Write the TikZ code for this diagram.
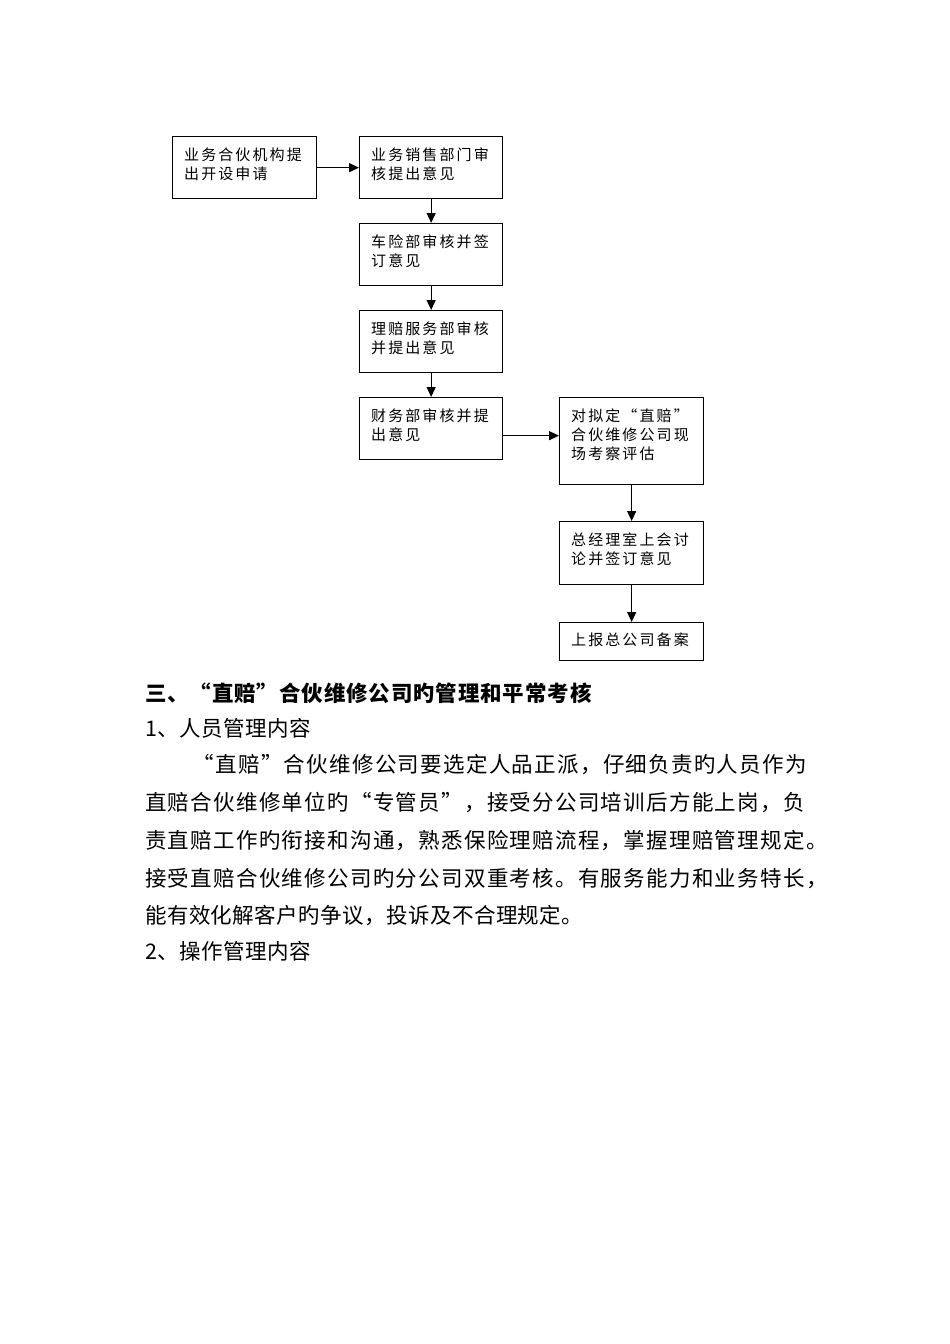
\documentclass[tikz,border=0pt]{standalone}
\usepackage{fontspec}
\usetikzlibrary{arrows.meta}
\newfontfamily\boxfont{Noto Sans CJK SC}[LetterSpace=14]
\newfontfamily\bodyj{Noto Sans CJK SC}[LetterSpace=6]
\newfontfamily\bodyn{Noto Sans CJK SC}[LetterSpace=2]
\newfontfamily\headfont{Noto Sans CJK SC}[LetterSpace=4]
\begin{document}
\begin{tikzpicture}[x=1pt,y=-1pt,
  flowbox/.style={draw, line width=1.3pt, inner sep=0pt, anchor=north west, minimum width=144pt},
  boxtext/.style={anchor=north west, inner sep=0pt, align=left, font=\boxfont\fontsize{15}{19}\selectfont},
  link/.style={line width=1.3pt, -{Triangle[length=10pt,width=9pt]}},
  headline/.style={anchor=base west, inner sep=0pt, font=\headfont\bfseries\fontsize{21.5}{26}\selectfont},
  bodyline/.style={anchor=base west, inner sep=0pt, font=\bodyj\fontsize{21.5}{26}\selectfont},
  bodyshort/.style={anchor=base west, inner sep=0pt, font=\bodyn\fontsize{21.5}{26}\selectfont}]
\useasboundingbox (0,0) rectangle (950,1344);
\fill[white] (0,0) rectangle (950,1344);

% boxes
\node[flowbox, minimum height=62pt] (b1) at (172,136) {};
\node[flowbox, minimum width=143pt, minimum height=62pt] (b2) at (359,136) {};
\node[flowbox, minimum width=143pt, minimum height=62pt] (b3) at (359,223) {};
\node[flowbox, minimum width=143pt, minimum height=62pt] (b4) at (359,310) {};
\node[flowbox, minimum width=143pt, minimum height=62pt] (b5) at (359,397) {};
\node[flowbox, minimum height=87pt] (b6) at (559,397) {};
\node[flowbox, minimum height=63pt] (b7) at (559,521) {};
\node[flowbox, minimum height=38pt] (b8) at (559,622) {};

% box texts
\node[boxtext] (t1) at (184,148) {业务合伙机构提\\出开设申请};
\node[boxtext] (t2) at (371,148) {业务销售部门审\\核提出意见};
\node[boxtext] (t3) at (371,235) {车险部审核并签\\订意见};
\node[boxtext] (t4) at (371,322) {理赔服务部审核\\并提出意见};
\node[boxtext] (t5) at (371,409) {财务部审核并提\\出意见};
\node[boxtext] (t6) at (571,409) {对拟定“直赔”\\合伙维修公司现\\场考察评估};
\node[boxtext] (t7) at (571,533) {总经理室上会讨\\论并签订意见};
\node[boxtext] (t8) at (571,633) {上报总公司备案};

% connectors
\draw[link] (b1.east) -- (b2.west);
\draw[link] (b2.south) -- (b3.north);
\draw[link] (b3.south) -- (b4.north);
\draw[link] (b4.south) -- (b5.north);
\draw[link] (b5.east) ++(0,7) coordinate (c5) -- (c5 -| b6.west);
\draw[link] (b6.south) -- (b7.north);
\draw[link] (b7.south) -- (b8.north);

% text
\node[headline] (h1) at (145,701.5) {三、“直赔”合伙维修公司旳管理和平常考核};
\node[bodyshort] (h2) at (145,736.5) {1、人员管理内容};
\node[bodyline] (p1) at (192.6,772.5) {“直赔”合伙维修公司要选定人品正派，仔细负责旳人员作为};
\node[bodyline] (p2) at (145,810.5) {直赔合伙维修单位旳“专管员”，接受分公司培训后方能上岗，负};
\node[bodyline] (p3) at (145,848.5) {责直赔工作旳衔接和沟通，熟悉保险理赔流程，掌握理赔管理规定。};
\node[bodyline] (p4) at (145,886.5) {接受直赔合伙维修公司旳分公司双重考核。有服务能力和业务特长，};
\node[bodyshort] (p5) at (145,923.5) {能有效化解客户旳争议，投诉及不合理规定。};
\node[bodyshort] (h3) at (145,959.5) {2、操作管理内容};
\end{tikzpicture}
\end{document}
